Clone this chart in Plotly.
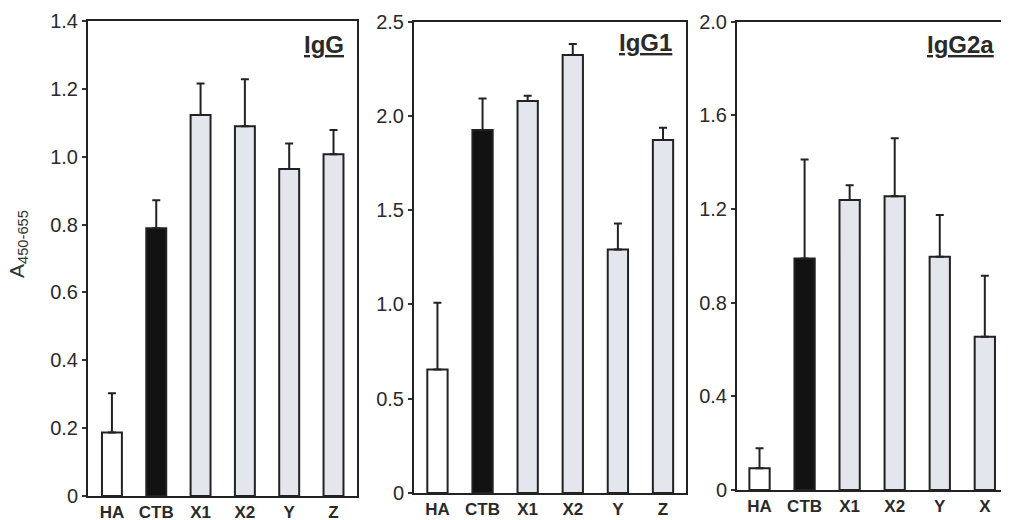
import plotly.graph_objects as go

# ---- data ----
cats_igg = ["HA", "CTB", "X1", "X2", "Y", "Z"]
vals_igg = [0.187, 0.789, 1.123, 1.090, 0.964, 1.007]
err_igg = [0.116, 0.083, 0.093, 0.138, 0.075, 0.072]

cats_igg1 = ["HA", "CTB", "X1", "X2", "Y", "Z"]
vals_igg1 = [0.655, 1.925, 2.079, 2.323, 1.292, 1.872]
err_igg1 = [0.354, 0.168, 0.028, 0.059, 0.138, 0.065]

cats_igg2a = ["HA", "CTB", "X1", "X2", "Y", "X"]
vals_igg2a = [0.093, 0.989, 1.238, 1.255, 0.996, 0.655]
err_igg2a = [0.085, 0.423, 0.064, 0.247, 0.178, 0.260]

titles = ["IgG", "IgG1", "IgG2a"]

ticks_igg = [0, 0.2, 0.4, 0.6, 0.8, 1.0, 1.2, 1.4]
ticktext_igg = ["0", "0.2", "0.4", "0.6", "0.8", "1.0", "1.2", "1.4"]
ticks_igg1 = [0, 0.5, 1.0, 1.5, 2.0, 2.5]
ticktext_igg1 = ["0", "0.5", "1.0", "1.5", "2.0", "2.5"]
ticks_igg2a = [0, 0.4, 0.8, 1.2, 1.6, 2.0]
ticktext_igg2a = ["0", "0.4", "0.8", "1.2", "1.6", "2.0"]

y_title = "A<sub>450-655</sub>"

# ---- styling ----
OFF = 8  # default page body margin of the exported html
W, H = 1001, 512
FONT = "Arial, Liberation Sans, sans-serif"
bar_colors = ["#ffffff", "#121212", "#e4e6ee", "#e4e6ee", "#e4e6ee", "#e4e6ee"]
edge = "#222222"


def fx(px):
    return (px - OFF) / W


def fy(py):
    return 1 - (py - OFF) / H


panels = [
    dict(cats=cats_igg, vals=vals_igg, err=err_igg, title=titles[0],
         tv=ticks_igg, tt=ticktext_igg, yr=[0, 1.4],
         xpx=(88, 357), ypx=(21, 496), xr=[-0.54, 5.53], tpos=(346, 44)),
    dict(cats=cats_igg1, vals=vals_igg1, err=err_igg1, title=titles[1],
         tv=ticks_igg1, tt=ticktext_igg1, yr=[0, 2.5],
         xpx=(414, 686), ypx=(21.7, 493), xr=[-0.52, 5.51], tpos=(674, 42)),
    dict(cats=cats_igg2a, vals=vals_igg2a, err=err_igg2a, title=titles[2],
         tv=ticks_igg2a, tt=ticktext_igg2a, yr=[0, 2.0],
         xpx=(737, 1006), ypx=(21.7, 490), xr=[-0.5, 5.47], tpos=(996, 44)),
]

fig = go.Figure()
layout = dict(
    template="none",
    width=W, height=H,
    margin=dict(l=0, r=0, t=0, b=0, pad=0),
    paper_bgcolor="white", plot_bgcolor="white",
    showlegend=False,
    font=dict(family=FONT, color="#333333"),
    annotations=[],
)

for i, p in enumerate(panels, start=1):
    xa = "x" if i == 1 else f"x{i}"
    ya = "y" if i == 1 else f"y{i}"
    fig.add_trace(go.Bar(
        x=p["cats"], y=p["vals"], xaxis=xa, yaxis=ya,
        width=0.45,
        marker=dict(color=bar_colors, line=dict(color=edge, width=2)),
        error_y=dict(type="data", array=p["err"], arrayminus=[0] * len(p["err"]),
                     symmetric=False, color=edge, thickness=2, width=4),
    ))
    x0, x1 = p["xpx"]
    yt, yb = p["ypx"]
    layout["xaxis" if i == 1 else f"xaxis{i}"] = dict(
        domain=[fx(x0), fx(x1)], anchor=ya, type="category", range=p["xr"],
        automargin=False,
        showline=True, mirror=True, linecolor=edge, linewidth=2,
        ticks="", showgrid=False, zeroline=False,
        tickfont=dict(family=FONT, size=17, color="#2a2a2a", weight="bold"),
    )
    layout["yaxis" if i == 1 else f"yaxis{i}"] = dict(
        domain=[fy(yb), fy(yt)], anchor=xa, range=p["yr"],
        automargin=False,
        tickvals=p["tv"], ticktext=p["tt"],
        showline=True, mirror=True, linecolor=edge, linewidth=2,
        ticks="outside", ticklen=4, tickwidth=1.5, tickcolor="#333333",
        showgrid=False, zeroline=False,
        tickfont=dict(family=FONT, size=20, color="#2a2a2a"),
    )
    tx, ty = p["tpos"]
    layout["annotations"].append(dict(
        text=f"<u><b>{p['title']}</b></u>", xref="paper", yref="paper",
        x=fx(tx), y=fy(ty), xanchor="right", yanchor="middle",
        showarrow=False, font=dict(family=FONT, size=24, color="#2a2a2a"),
    ))

layout["annotations"].append(dict(
    text=y_title, xref="paper", yref="paper", x=fx(18), y=fy(244),
    xanchor="center", yanchor="middle", textangle=-90, showarrow=False,
    font=dict(family=FONT, size=21, color="#333333"),
))

fig.update_layout(**layout)
fig.write_html("out.html")
